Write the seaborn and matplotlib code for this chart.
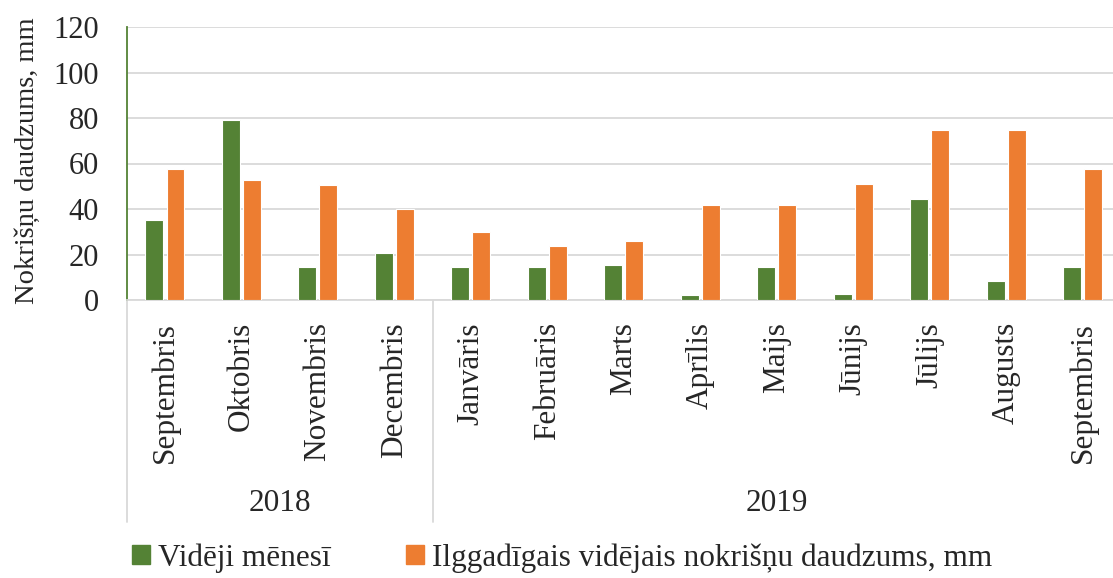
import numpy as np
import pandas as pd
import matplotlib
matplotlib.use("Agg")
import matplotlib.pyplot as plt
import matplotlib.transforms as mtransforms
import seaborn as sns

# ==========================================
# Data
# ==========================================
months = ["Septembris", "Oktobris", "Novembris", "Decembris",
          "Janv\u0101ris", "Febru\u0101ris", "Marts", "Apr\u012blis", "Maijs",
          "J\u016bnijs", "J\u016blijs", "Augusts", "Septembris"]
years = ["2018"] * 4 + ["2019"] * 9
monthly_mm = [35.0, 79.3, 14.3, 20.7, 14.4, 14.4, 15.3, 2.2, 14.7, 2.6, 44.2, 8.3, 14.4]
longterm_mm = [57.7, 52.9, 50.7, 40.0, 29.9, 23.6, 25.9, 41.8, 41.8, 51.2, 74.9, 74.9, 57.7]
series_names = ["Vid\u0113ji m\u0113nes\u012b",
                "Ilggad\u012bgais vid\u0113jais nokri\u0161\u0146u daudzums, mm"]
series_colors = ["#548235", "#ED7D31"]
y_ticks = [0, 20, 40, 60, 80, 100, 120]
y_label = "Nokri\u0161\u0146u daudzums, mm"

# ==========================================
# Formatting
# ==========================================
sns.set_style("white")
plt.rcParams['font.family'] = ['Liberation Serif', 'DejaVu Serif']
FS = 22.5
GRID = '#d9d9d9'

keys = [f"{m} {y}" for m, y in zip(months, years)]
df = pd.DataFrame({
    'key': keys * 2,
    'value': monthly_mm + longterm_mm,
    'series': [series_names[0]] * len(keys) + [series_names[1]] * len(keys),
})

fig = plt.figure(figsize=(11.13, 5.78), dpi=100)
W, H = 1113, 578
left_px, right_px, top_px, bot_px = 126.7, 1121.0, 27.0, 300.0
ax = fig.add_axes([left_px / W, 1 - bot_px / H, (right_px - left_px) / W, (bot_px - top_px) / H])

sns.barplot(data=df, x='key', y='value', hue='series', order=keys,
            hue_order=series_names, palette=series_colors, saturation=1,
            width=0.55, gap=0.15, edgecolor='white', linewidth=0.8,
            legend=False, ax=ax, zorder=3)

# --- Axes ---
ax.set_xlim(-0.5, len(keys) - 0.5)
ax.set_ylim(0, 120)
ax.set_yticks(y_ticks)
ax.tick_params(axis='y', length=0, pad=20, labelsize=22)
ax.tick_params(axis='x', length=0, pad=16, labelsize=FS)
ax.set_xticks(range(len(keys)))
ax.set_xticklabels(months, rotation=90, va='top')
ax.set_xlabel('')
ax.set_ylabel(y_label, fontsize=20.5)
ax.yaxis.set_label_coords(-0.087, 0.51)

ax.grid(axis='y', color=GRID, linewidth=1.3, zorder=0)
for s in ['top', 'right']:
    ax.spines[s].set_visible(False)
ax.spines['left'].set_color('#548235')
ax.spines['left'].set_linewidth(1.3)
ax.spines['bottom'].set_color(GRID)
ax.spines['bottom'].set_linewidth(1.3)

# --- Year group labels and separators ---
trans = mtransforms.blended_transform_factory(ax.transData, ax.transAxes)
unique_years = list(dict.fromkeys(years))
bounds = [-0.5]
for yr in unique_years:
    idx = [i for i, y in enumerate(years) if y == yr]
    ax.text((idx[0] + idx[-1]) / 2, -0.745, yr, transform=trans,
            ha='center', va='center', fontsize=FS)
    bounds.append(idx[-1] + 0.5)
for b in bounds:
    ax.plot([b, b], [0, -0.813], transform=trans, color=GRID,
            linewidth=1.3, clip_on=False)

# --- Legend ---
handles = [plt.Rectangle((0, 0), 1, 1, color=c) for c in series_colors]
fig.legend(handles, series_names, loc='center left', bbox_to_anchor=(132 / W, 1 - 558 / H),
           ncol=2, frameon=False, prop={'family': ['Liberation Serif', 'DejaVu Serif'], 'size': FS},
           handlelength=0.58, handleheight=0.58, handletextpad=0.26,
           columnspacing=2.4, borderpad=0, borderaxespad=0)

fig.savefig('out.png', dpi=100)
